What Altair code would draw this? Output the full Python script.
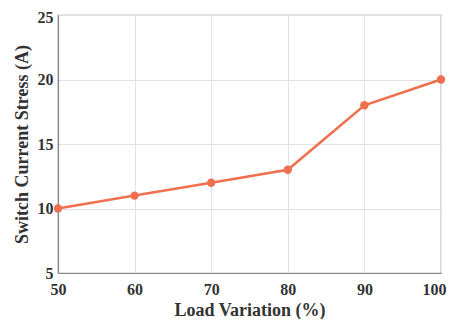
import altair as alt
import pandas as pd

load = [50, 60, 70, 80, 90, 100]
stress = [10, 11, 12, 13, 18, 20]

df = pd.DataFrame({"load": load, "stress": stress})

font = "Liberation Serif"
color = "#EF6F4F"

base = alt.Chart(df).encode(
    x=alt.X("load:Q", scale=alt.Scale(domain=[50, 100], nice=False),
            axis=alt.Axis(title="Load Variation (%)", values=load, grid=True,
                          ticks=False, labelPadding=8, titlePadding=4,
                          labelOffset={"condition": {"test": "datum.value == 100", "value": -7}, "value": 0})),
    y=alt.Y("stress:Q", scale=alt.Scale(domain=[5, 25], nice=False),
            axis=alt.Axis(title="Switch Current Stress (A)", values=[5, 10, 15, 20, 25],
                          grid=True, ticks=False, labelPadding=5, titlePadding=6,
                          labelOffset={"condition": {"test": "datum.value == 25", "value": 2}, "value": 0})),
)

line = base.mark_line(color=color, strokeWidth=2.5)
pts = base.mark_circle(color=color, size=70, opacity=1)

chart = (line + pts).properties(
    width=383, height=258,
    autosize=alt.AutoSizeParams(type="none"),
    padding={"left": 50, "top": 7, "right": 6, "bottom": 46},
).configure_view(
    stroke="#888888", strokeWidth=1.2
).configure_axis(
    labelFont=font, titleFont=font, labelFontSize=16, titleFontSize=18,
    labelFontWeight="bold", titleFontWeight="bold",
    labelColor="#333333", titleColor="#333333",
    gridColor="#e2e2e2", gridWidth=1, domainColor="#888888", domainWidth=1.2,
    labelOverlap=False, labelBound=False, labelFlush=False,
)

chart.save("out.html", embed_options={"renderer": "svg", "actions": False})
